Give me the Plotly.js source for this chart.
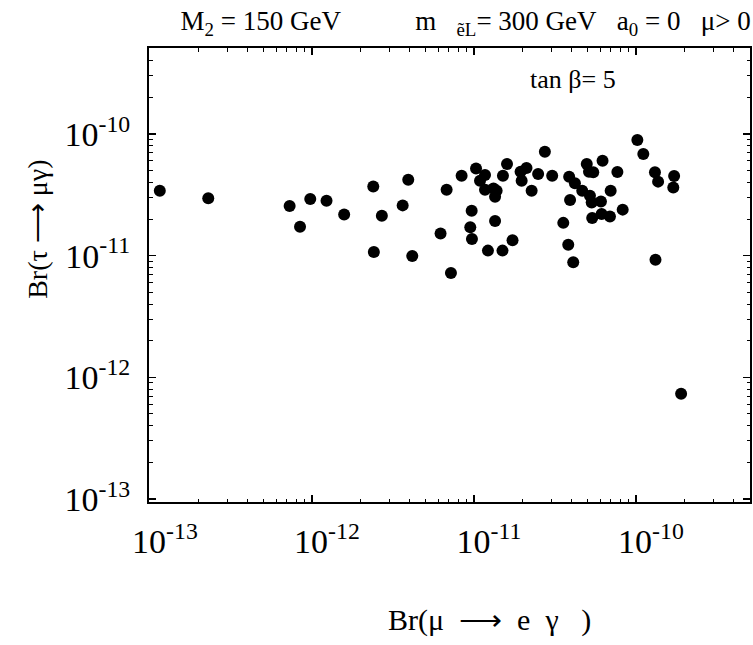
<!DOCTYPE html>
<html>
<head>
<meta charset="utf-8">
<script src="https://cdn.plot.ly/plotly-3.0.1.min.js"></script>
<style>html,body{margin:0;padding:0;background:#fff;}#chart{width:753px;height:645px;}</style>
</head>
<body>
<div id="chart"></div>
<script>
// Br(mu -> e gamma)
const brMuEGamma = [
  1.15e-13, 2.29e-13, 7.28e-13, 8.44e-13, 9.76e-13, 1.23e-12, 1.58e-12, 2.39e-12, 2.41e-12, 2.70e-12,
  3.63e-12, 3.93e-12, 4.16e-12, 6.22e-12, 6.78e-12, 7.21e-12, 8.39e-12, 9.68e-12, 9.49e-12, 9.72e-12,
  1.03e-11, 1.09e-11, 1.17e-11, 1.17e-11, 1.22e-11, 1.32e-11, 1.38e-11, 1.35e-11, 1.35e-11, 1.50e-11,
  1.60e-11, 1.51e-11, 1.73e-11, 1.94e-11, 2.11e-11, 1.97e-11, 2.27e-11, 2.49e-11, 2.74e-11, 3.04e-11,
  3.87e-11, 4.20e-11, 4.66e-11, 5.20e-11, 5.33e-11, 6.08e-11, 3.92e-11, 3.56e-11, 3.82e-11, 4.10e-11,
  4.97e-11, 5.13e-11, 5.45e-11, 6.22e-11, 7.68e-11, 6.98e-11, 8.28e-11, 5.37e-11, 6.14e-11, 6.91e-11,
  1.02e-10, 1.11e-10, 1.31e-10, 1.37e-10, 1.72e-10, 1.70e-10, 1.32e-10, 1.90e-10
];
// Br(tau -> mu gamma)
const brTauMuGamma = [
  3.42e-11, 2.96e-11, 2.56e-11, 1.73e-11, 2.92e-11, 2.83e-11, 2.18e-11, 3.71e-11, 1.07e-11, 2.13e-11,
  2.59e-11, 4.21e-11, 9.95e-12, 1.52e-11, 3.48e-11, 7.21e-12, 4.54e-11, 2.34e-11, 1.71e-11, 1.37e-11,
  5.21e-11, 4.13e-11, 4.60e-11, 3.48e-11, 1.10e-11, 3.57e-11, 3.42e-11, 3.05e-11, 1.93e-11, 1.10e-11,
  5.66e-11, 4.54e-11, 1.34e-11, 4.90e-11, 5.26e-11, 4.13e-11, 3.42e-11, 4.69e-11, 7.16e-11, 4.54e-11,
  4.46e-11, 3.93e-11, 3.42e-11, 3.11e-11, 2.74e-11, 2.79e-11, 2.87e-11, 1.86e-11, 1.23e-11, 8.81e-12,
  5.66e-11, 4.90e-11, 4.84e-11, 6.04e-11, 4.87e-11, 3.42e-11, 2.39e-11, 2.04e-11, 2.20e-11, 2.10e-11,
  8.93e-11, 6.86e-11, 4.84e-11, 4.06e-11, 4.52e-11, 3.64e-11, 9.27e-12, 7.31e-13
];
// decade tick positions and labels
const tickVals = [1e-13, 1e-12, 1e-11, 1e-10];
const tickLabels = ["10<sup>-13</sup>", "10<sup>-12</sup>", "10<sup>-11</sup>", "10<sup>-10</sup>"];

const NB = "\u00a0";
const titleText = "M<sub>2</sub> = 150 GeV" + NB.repeat(11) +
                  "m" + NB.repeat(3) + "<sub>ẽL</sub>=" + NB + "300" + NB + "GeV" + NB.repeat(3) +
                  "a<sub>0</sub>" + NB + "=" + NB + "0" + NB.repeat(3) +
                  "μ>" + NB + "0";
const xTitle = "Br(μ" + NB + NB + "⟶" + NB + NB + "e" + NB + NB + "γ" + NB + NB + NB + ")";
const yTitle = "Br(τ" + NB + "⟶" + NB + "μγ)";
const panelLabel = "tan β= 5";

const serif = "Liberation Serif, Times New Roman, serif";

const trace = {
  x: brMuEGamma,
  y: brTauMuGamma,
  type: "scatter",
  mode: "markers",
  marker: {color: "#000", size: 12, line: {width: 0}},
  hoverinfo: "none",
  showlegend: false
};

const axisCommon = {
  type: "log",
  showline: true,
  linecolor: "#000",
  linewidth: 2,
  mirror: "allticks",
  ticks: "inside",
  ticklen: 7,
  tickwidth: 1.5,
  tickcolor: "#000",
  tickmode: "array",
  tickvals: tickVals,
  ticktext: tickLabels,
  showgrid: false,
  zeroline: false,
  tickfont: {family: serif, size: 34, color: "#000"},
  minor: {ticks: "inside", ticklen: 3.5, tickwidth: 1, tickcolor: "#000", dtick: "D1", showgrid: false}
};

const layout = {
  width: 753,
  height: 645,
  paper_bgcolor: "#fff",
  plot_bgcolor: "#fff",
  margin: {l: 149, r: 3, t: 48, b: 143},
  title: {
    text: titleText,
    font: {family: serif, size: 27, color: "#000"},
    xref: "container", x: 0.997, xanchor: "right",
    yref: "container", y: 0.968, yanchor: "middle"
  },
  xaxis: Object.assign({}, axisCommon, {
    range: [-13.006, -9.296],
    ticklabelstandoff: 8,
    ticklabelshift: 15
  }),
  yaxis: Object.assign({}, axisCommon, {
    range: [-13.025, -9.293],
    ticklabelstandoff: 10
  }),
  annotations: [
    {
      text: panelLabel,
      xref: "paper", yref: "paper",
      x: 0.705, y: 0.93,
      xanchor: "center", yanchor: "middle",
      showarrow: false,
      font: {family: serif, size: 26, color: "#000"}
    },
    {
      text: xTitle,
      xref: "paper", yref: "paper",
      x: 0.566, y: -0.26,
      xanchor: "center", yanchor: "middle",
      showarrow: false,
      font: {family: serif, size: 30, color: "#000"}
    },
    {
      text: yTitle,
      xref: "paper", yref: "paper",
      x: -0.186, y: 0.6,
      xanchor: "center", yanchor: "middle",
      textangle: -90,
      showarrow: false,
      font: {family: serif, size: 28, color: "#000"}
    }
  ]
};

Plotly.newPlot("chart", [trace], layout, {displayModeBar: false, staticPlot: true});
</script>
</body>
</html>
